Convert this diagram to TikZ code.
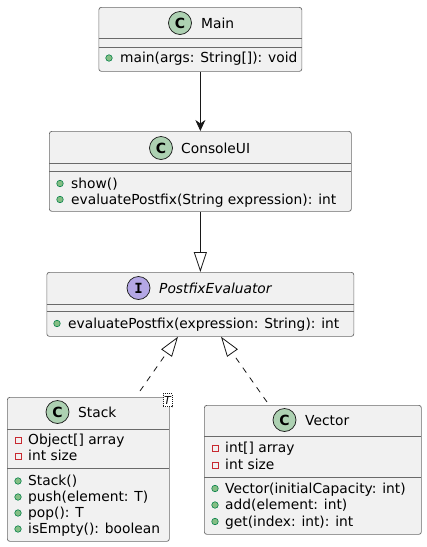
\documentclass[tikz,border=0pt]{standalone}
\usepackage{fontspec}
\setmainfont{DejaVu Sans}
\newfontfamily\iconmono{DejaVu Sans Mono}
\usetikzlibrary{arrows.meta,calc}
\definecolor{boxfill}{HTML}{F1F1F1}
\definecolor{boxline}{HTML}{181818}
\definecolor{boxedge}{HTML}{6A6A6A}
\definecolor{cgreen}{HTML}{ADD1B2}
\definecolor{ipurple}{HTML}{B4A7E5}
\definecolor{pubfill}{HTML}{84BE84}
\definecolor{publine}{HTML}{038048}
\definecolor{privline}{HTML}{C82930}
\begin{document}
\begin{tikzpicture}[x=1pt,y=-1pt,
  font=\fontsize{13.8}{16}\selectfont,
  classbox/.style={draw=boxedge, fill=boxfill, line width=0.7pt, rounded corners=2.5pt,
     anchor=north west, inner sep=0pt},
  sepline/.style={draw=boxedge, line width=0.7pt},
  ctitle/.style={anchor=base west, inner sep=0pt},
  member/.style={anchor=base west, inner sep=0pt},
  cicon/.style={circle, draw=boxline, line width=0.7pt, fill=cgreen, minimum size=23pt,
     inner sep=0pt, font=\fontsize{14}{14}\selectfont\bfseries},
  iicon/.style={circle, draw=boxline, line width=0.7pt, fill=ipurple, minimum size=23pt,
     inner sep=0pt, font=\fontsize{14}{14}\selectfont\iconmono\bfseries},
  pub/.style={circle, draw=publine, fill=pubfill, line width=0.6pt, minimum size=6.5pt, inner sep=0pt},
  priv/.style={rectangle, draw=privline, line width=0.8pt, minimum size=6pt, inner sep=0pt},
  assoc/.style={draw=boxline, line width=0.8pt, -{Stealth[length=11pt,width=10pt,inset=3.5pt]}},
  realize/.style={draw=boxline, line width=0.8pt, -{Triangle[open,length=20pt,width=13pt,fill=white]}},
  implz/.style={realize, dash pattern=on 6pt off 6pt},
]
\useasboundingbox (0,0) rectangle (427,547);
\fill[white] (0,0) rectangle (427,547);

% ---- Main ----
\node[classbox, minimum width=203pt, minimum height=64pt] (main) at (98.5,7) {};
\draw[sepline] (98.5,38) -- (301.5,38);
\draw[sepline] (98.5,47) -- (301.5,47);
\node[cicon] (mainC) at (180,23) {C};
\node[ctitle] (mainT) at (201,28) {Main};
\node[pub] (mainI1) at (109,58) {};
\node[member] (mainM1) at (120,62.5) {main(args: String[]): void};

% ---- ConsoleUI ----
\node[classbox, minimum width=302pt, minimum height=80pt] (console) at (49,131) {};
\draw[sepline] (49,163) -- (351,163);
\draw[sepline] (49,171) -- (351,171);
\node[cicon] (consoleC) at (161,148) {C};
\node[ctitle] (consoleT) at (181,153) {ConsoleUI};
\node[pub] (consoleI1) at (60,183.5) {};
\node[member] (consoleM1) at (71,188) {show()};
\node[pub] (consoleI2) at (60,199.5) {};
\node[member] (consoleM2) at (71,204) {evaluatePostfix(String expression): int};

% ---- PostfixEvaluator ----
\node[classbox, minimum width=307pt, minimum height=64pt] (postfix) at (46.5,272) {};
\draw[sepline] (46.5,304) -- (353.5,304);
\draw[sepline] (46.5,311) -- (353.5,311);
\node[iicon] (postfixC) at (138.5,288) {I};
\node[ctitle, font=\fontsize{13.8}{16}\selectfont\itshape] (postfixT) at (159,293) {PostfixEvaluator};
\node[pub] (postfixI1) at (57,323.5) {};
\node[member] (postfixM1) at (68,328) {evaluatePostfix(expression: String): int};

% ---- Stack ----
\node[classbox, minimum width=162pt, minimum height=144pt] (stack) at (7,397) {};
\draw[sepline] (7,429) -- (169,429);
\draw[sepline] (7,468) -- (169,468);
\node[cicon] (stackC) at (57.5,412) {C};
\node[ctitle] (stackT) at (78,417) {Stack};
\node[draw=boxline, dash pattern=on 1pt off 1pt, line width=0.6pt, fill=white,
  minimum width=9pt, minimum height=13pt, inner sep=0pt,
  font=\fontsize{11}{11}\selectfont\itshape] (stackG) at (167.5,400) {T};
\node[priv] (stackI1) at (18,440) {};
\node[member] (stackF1) at (28,444.5) {Object[] array};
\node[priv] (stackI2) at (18,456) {};
\node[member] (stackF2) at (28,460.5) {int size};
\node[pub] (stackI3) at (18,481) {};
\node[member] (stackM1) at (28,485.5) {Stack()};
\node[pub] (stackI4) at (18,497) {};
\node[member] (stackM2) at (28,501.5) {push(element: T)};
\node[pub] (stackI5) at (18,513) {};
\node[member] (stackM3) at (28,517.5) {pop(): T};
\node[pub] (stackI6) at (18,529) {};
\node[member] (stackM4) at (28,533.5) {isEmpty(): boolean};

% ---- Vector ----
\node[classbox, minimum width=217pt, minimum height=129pt] (vector) at (204,405) {};
\draw[sepline] (204,436) -- (421,436);
\draw[sepline] (204,477) -- (421,477);
\node[cicon] (vectorC) at (284.5,420) {C};
\node[ctitle] (vectorT) at (305,425) {Vector};
\node[priv] (vectorI1) at (215,448) {};
\node[member] (vectorF1) at (225,452.5) {int[] array};
\node[priv] (vectorI2) at (215,465) {};
\node[member] (vectorF2) at (225,469.5) {int size};
\node[pub] (vectorI3) at (215,488.5) {};
\node[member] (vectorM1) at (225,493) {Vector(initialCapacity: int)};
\node[pub] (vectorI4) at (215,505) {};
\node[member] (vectorM2) at (225,509.5) {add(element: int)};
\node[pub] (vectorI5) at (215,521.5) {};
\node[member] (vectorM3) at (225,526) {get(index: int): int};

% ---- connectors ----
\draw[assoc] (main.south) -- (main.south |- console.north);
\draw[realize] (console.south) -- (console.south |- postfix.north);
\coordinate (stackTop) at ($(stack.north west)+(133,-6)$);
\coordinate (postfixL) at ($(postfix.south west)+(131.5,0)$);
\draw[implz] (stackTop) -- (postfixL);
\coordinate (vectorTop) at ($(vector.north west)+(63,-3)$);
\coordinate (postfixR) at ($(postfix.south west)+(174.5,0)$);
\draw[implz] (vectorTop) -- (postfixR);
\end{tikzpicture}
\end{document}
